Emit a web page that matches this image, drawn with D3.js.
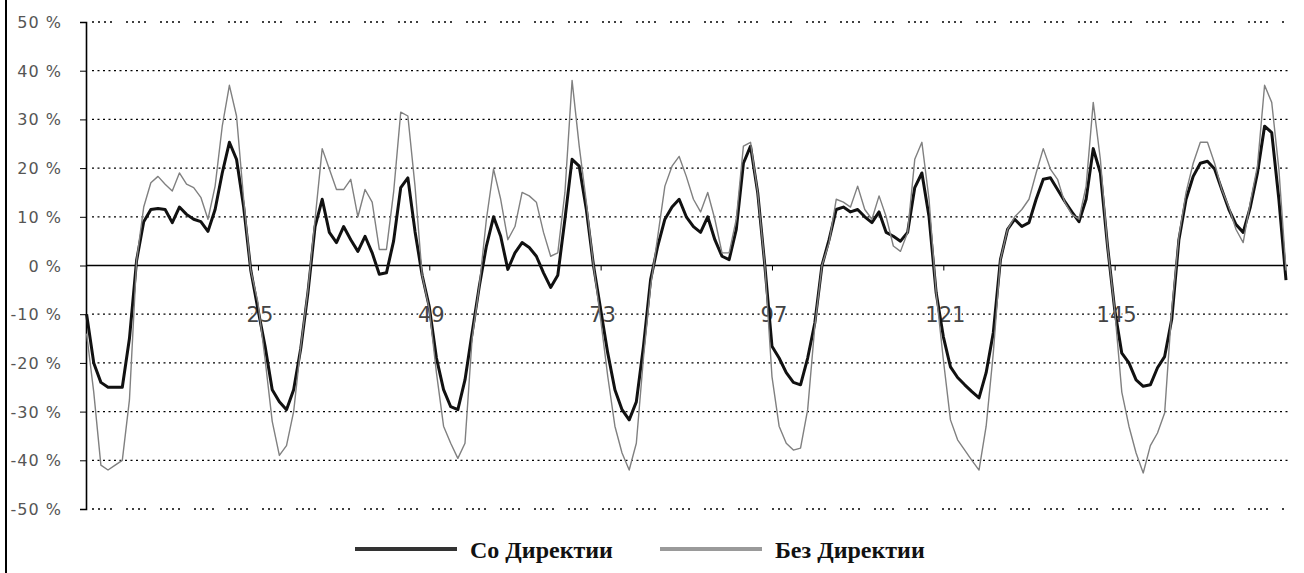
<!DOCTYPE html>
<html>
<head>
<meta charset="utf-8">
<script src="https://cdn.jsdelivr.net/npm/d3@7"></script>
<style>
    html, body { margin: 0; padding: 0; background: #fff; }
    svg { display: block; }
</style>
</head>
<body>
<div id="chart"></div>
<script>
'use strict';

// hourly deviation, one week (169 points)
const hours = d3.range(1, 170);

const withDirectives = [
    -10, -20, -24, -25, -25, -25, -15, 1, 9, 11.5, 11.7, 11.5, 8.8, 12, 10.5, 9.5, 9, 7, 11.5, 19, 25.3, 21.8, 12, -1,
    -9, -16.6, -25.5, -28, -29.6, -25.5, -17, -5.6, 8, 13.6, 6.8, 4.7, 8, 5.3, 2.9, 6, 2.6, -1.8, -1.5, 5, 16, 18, 7, -2,
    -8.5, -19, -25.5, -29, -29.6, -23.5, -13.8, -4.3, 4, 10, 6, -0.8, 2.6, 4.7, 3.7, 1.9, -1.5, -4.5, -2, 9.5, 21.8, 20.4, 11.5, 0,
    -9, -18, -25.5, -29.6, -31.7, -28, -16.6, -2.9, 4, 9.5, 12, 13.6, 10, 8, 6.8, 10, 5.3, 1.9, 1.2, 7.4, 21, 24.5, 15, 0,
    -16.6, -19, -22, -24, -24.5, -19, -11.8, 0, 5.3, 11.5, 12, 11, 11.5, 10, 8.8, 11, 6.8, 6, 5, 6.8, 16, 19, 10, -5.6,
    -14.6, -20.8, -23, -24.5, -25.9, -27.2, -22, -13.8, 1.2, 7.4, 9.5, 8, 8.8, 13.6, 17.7, 18, 15.6, 13.2, 11, 9, 13.6, 24, 19, 4,
    -9, -18, -20, -23.5, -24.8, -24.5, -21, -18.7, -11, 5.3, 13.6, 18.3, 21, 21.4, 19.8, 15.6, 11.5, 8.4, 6.8, 12, 19, 28.6, 27.3, 13.6,
    -3
];

const withoutDirectives = [
    -14, -26, -41, -42, -41, -40, -27.6, 1, 12, 17, 18.3, 16.7, 15.3, 19, 16.7, 16, 14, 9.5, 16.3, 28.6, 37, 30.7, 13.6, -1,
    -7.6, -19.3, -32, -39, -37, -30, -16.6, -5, 9.5, 24, 19.8, 15.6, 15.6, 17.7, 10, 15.6, 13, 3.3, 3.3, 15, 31.5, 30.7, 16.3, -2,
    -9, -22, -33, -36.5, -39.6, -36.5, -15, -4.3, 9.5, 19.8, 13.6, 5.3, 8, 15, 14.3, 13, 6.8, 1.9, 2.6, 15, 38, 24.5, 13, 0,
    -11, -22.8, -33, -38.5, -42, -36.5, -19, -4.3, 6, 16.3, 20.4, 22.4, 18.3, 13.6, 11, 15, 9.5, 2.6, 2.6, 9.5, 24.5, 25.3, 15, 0,
    -22.8, -33, -36.5, -37.9, -37.5, -29.6, -12.5, 0, 4.7, 13.6, 13, 12, 16.3, 11.5, 9.5, 14.3, 10, 4, 2.9, 6.8, 21.8, 25.3, 13.6, -5.6,
    -19.3, -31.7, -35.8, -37.9, -40, -42, -33, -18, 1.2, 7.4, 10, 11.5, 13.6, 19, 24, 19.8, 17.7, 13, 10.5, 9.5, 16.3, 33.5, 21.8, 4,
    -9, -26, -33, -38.5, -42.6, -37, -34.4, -30.3, -9, 6, 15, 21, 25.3, 25.3, 21, 15.6, 12, 7.4, 4.7, 13, 20.4, 37, 33.5, 19.8,
    -1
];

const seriesNames = ['Со Директии', 'Без Директии'];
const yTicks = [50, 40, 30, 20, 10, 0, -10, -20, -30, -40, -50];
const xTicks = [25, 49, 73, 97, 121, 145];

const width = 1304;
const height = 573;

const svg = d3.select('#chart').append('svg')
    .attr('width', width)
    .attr('height', height);

// scales
const x = d3.scaleLinear().domain([1, 169]).range([86.6, 1286]);
const y = d3.scaleLinear().domain([-50, 50]).range([509, 22]);

// left frame line of the scan
svg.append('line')
    .attr('x1', 6).attr('x2', 6)
    .attr('y1', 0).attr('y2', height)
    .attr('stroke', '#000')
    .attr('stroke-width', 2);

// dotted gridlines
svg.append('g')
    .selectAll('line')
    .data(yTicks.filter(d => d !== 0))
    .enter()
    .append('line')
    .attr('x1', 92).attr('x2', 1288)
    .attr('y1', d => y(d)).attr('y2', d => y(d))
    .attr('stroke', '#000')
    .attr('stroke-width', 1.3)
    .attr('stroke-dasharray', d => Math.abs(d) === 50 ? '2,4,2,4,2,4,2,14' : '2,3.5');

// y axis
const yAxis = svg.append('g')
    .attr('transform', 'translate(86,0)')
    .call(d3.axisLeft(y).tickValues(yTicks).tickSize(6).tickFormat(''));
yAxis.select('.domain').attr('stroke', '#000').attr('stroke-width', 1.6);
yAxis.selectAll('.tick line').attr('stroke', '#000');

svg.append('g')
    .selectAll('text')
    .data(yTicks)
    .enter()
    .append('text')
    .attr('x', 62)
    .attr('y', d => y(d) + 6)
    .attr('text-anchor', 'end')
    .attr('font-family', 'DejaVu Sans, sans-serif')
    .attr('font-size', 16)
    .attr('letter-spacing', 1)
    .attr('fill', '#555')
    .text(d => `${d} %`);

// zero line with category ticks
const xAxis = svg.append('g')
    .attr('transform', `translate(0,${y(0)})`)
    .call(d3.axisBottom(x).tickValues(xTicks).tickSize(5).tickFormat(''));
xAxis.select('.domain').attr('stroke', '#000').attr('stroke-width', 1.6).attr('d', `M86,0H1288`);
xAxis.selectAll('.tick line').attr('stroke', '#000');

// category labels sit low, over the -10 % gridline
svg.append('g')
    .selectAll('text')
    .data(xTicks)
    .enter()
    .append('text')
    .attr('x', d => x(d) + 2)
    .attr('y', y(-10) + 8)
    .attr('text-anchor', 'middle')
    .attr('font-family', 'DejaVu Sans, sans-serif')
    .attr('font-size', 21)
    .attr('fill', '#444')
    .attr('stroke', '#fff')
    .attr('stroke-width', 3)
    .attr('paint-order', 'stroke')
    .text(d => d);

// lines
const line = d3.line()
    .x((d, i) => x(hours[i]))
    .y(d => y(d));

svg.append('path')
    .datum(withDirectives)
    .attr('d', line)
    .attr('fill', 'none')
    .attr('stroke', '#111')
    .attr('stroke-width', 3)
    .attr('stroke-linejoin', 'round');

svg.append('path')
    .datum(withoutDirectives)
    .attr('d', line)
    .attr('fill', 'none')
    .attr('stroke', '#808080')
    .attr('stroke-width', 1.4)
    .attr('stroke-linejoin', 'round');

// legend
const legend = svg.append('g');
const legendItems = [
    { name: seriesNames[0], x: 355, color: '#333' },
    { name: seriesNames[1], x: 660, color: '#9a9a9a' }
];
legendItems.forEach(item => {
    legend.append('line')
        .attr('x1', item.x).attr('x2', item.x + 102)
        .attr('y1', 549).attr('y2', 549)
        .attr('stroke', item.color)
        .attr('stroke-width', 4);
    legend.append('text')
        .attr('x', item.x + 115)
        .attr('y', 558)
        .attr('font-family', 'Liberation Serif, serif')
        .attr('font-weight', 'bold')
        .attr('font-size', 24)
        .attr('fill', '#111')
        .text(item.name);
});
</script>
</body>
</html>
